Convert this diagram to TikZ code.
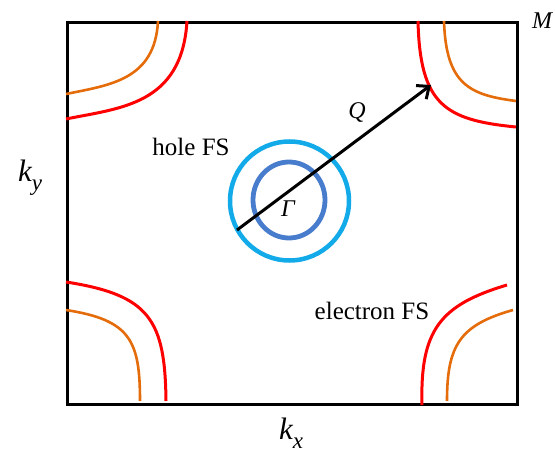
\documentclass[tikz,border=0pt]{standalone}
\usepackage{fontspec}
\setmainfont{Liberation Serif}
\usetikzlibrary{arrows.meta,shapes.geometric}
\definecolor{fsred}{RGB}{255,0,0}
\definecolor{fsorange}{RGB}{228,108,10}
\definecolor{fsouter}{RGB}{18,170,232}
\definecolor{fsinner}{RGB}{72,124,204}
\tikzset{
  frame/.style={line width=3pt, draw=black},
  redfs/.style={line width=3pt, draw=fsred},
  orangefs/.style={line width=2.6pt, draw=fsorange},
  lbl/.style={font=\fontsize{25}{29}\selectfont, inner sep=0pt},
  sym/.style={font=\fontsize{24}{28}\selectfont\itshape, inner sep=0pt},
  qarrow/.style={line width=3pt, -{Straight Barb[length=10pt,width=17pt,line width=3pt]}}
}
\begin{document}
\begin{tikzpicture}[x=1pt,y=-1pt]
\useasboundingbox (0,0) rectangle (555,452);
% Brillouin zone frame
\node[frame, minimum width=450pt, minimum height=382pt, inner sep=0pt, anchor=north west] (bz) at (66,21) {};
% corner Fermi surfaces
\draw[orangefs] (158,21) .. controls (155,80) and (110,85) .. (66,94);
\draw[redfs] (187,21) .. controls (182,105) and (120,108) .. (66,119);
\draw[redfs] (418,21) .. controls (420,105) and (445,120) .. (516,127);
\draw[orangefs] (444,21) .. controls (446,85) and (470,95) .. (516,101);
\draw[redfs] (66,282) .. controls (150,295) and (165,320) .. (166,401);
\draw[orangefs] (66,310) .. controls (130,320) and (140,340) .. (140,401);
\draw[redfs] (507,285) .. controls (440,305) and (420,330) .. (422,405);
\draw[orangefs] (513,310) .. controls (460,325) and (447,345) .. (447,401);
% hole Fermi surfaces
\node[draw=fsouter, line width=4.5pt, circle, minimum size=119pt, inner sep=0pt] (outer) at (289.5,201) {};
\node[draw=fsinner, line width=4.8pt, ellipse, minimum width=72pt, minimum height=76pt, inner sep=0pt] (inner) at (289,200) {};
% nesting vector
\coordinate (qstart) at (237,230);
\coordinate (qend) at (431,85);
\draw[qarrow] (qstart) -- (qend);
% labels
\node[sym] (gamma) at (288,209) {Γ};
\node[sym] (q) at (357,113) {Q};
\node[inner sep=0pt, font=\fontsize{24}{28}\selectfont\itshape] (m) at (542,21) {M};
\node[lbl] (hole) at (191,147) {hole FS};
\node[lbl] (elec) at (372,311) {electron FS};
\node[inner sep=0pt, font=\fontsize{31}{35}\selectfont\itshape] (kx) at (291,433) {k\raisebox{-0.3em}{\fontsize{23}{27}\selectfont x}};
\node[inner sep=0pt, font=\fontsize{31}{35}\selectfont\itshape] (ky) at (30,178) {k\raisebox{-0.3em}{\fontsize{23}{27}\selectfont y}};
\end{tikzpicture}
\end{document}
